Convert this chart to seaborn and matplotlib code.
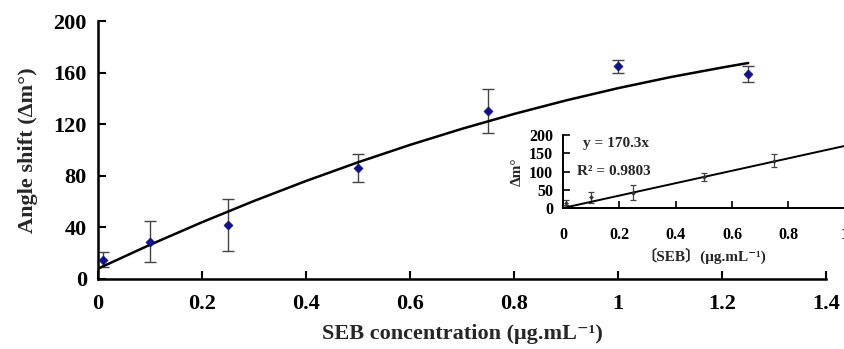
# SEB concentration vs angle shift, with linear-range inset
import numpy as np
import pandas as pd
import matplotlib
matplotlib.use("Agg")
import matplotlib.pyplot as plt
import seaborn as sns

conc = [0.01, 0.1, 0.25, 0.5, 0.75, 1.0, 1.25]
shift = [15, 29, 42, 86, 130, 165, 159]
err = [6, 16, 20, 11, 17, 5, 6]

# Fitted curve
curve_x = [0.0, 0.1, 0.2, 0.3, 0.4, 0.5, 0.6, 0.7, 0.8, 0.9, 1.0, 1.1, 1.2, 1.25]
curve_y = [8, 26.5, 44, 60.5, 76, 90.5, 104, 116.5, 128, 138.5, 148, 156.5, 164, 167.5]

# Inset: linear range
lin_conc = [0.01, 0.1, 0.25, 0.5, 0.75]
lin_shift = [15, 29, 42, 86, 130]
lin_err = [6, 16, 20, 11, 17]
lin_x = [0.0, 1.0]
lin_y = [0.0, 170.3]

main_xticks = [0, 0.2, 0.4, 0.6, 0.8, 1, 1.2, 1.4]
main_xlabels = ["0", "0.2", "0.4", "0.6", "0.8", "1", "1.2", "1.4"]
main_yticks = [0, 40, 80, 120, 160, 200]
ins_xticks = [0, 0.2, 0.4, 0.6, 0.8, 1]
ins_xlabels = ["0", "0.2", "0.4", "0.6", "0.8", "1"]
ins_yticks = [0, 50, 100, 150, 200]

sns.set_style("ticks")
plt.rcParams['font.family'] = ['Liberation Serif', 'DejaVu Serif', 'Noto Sans CJK SC']
plt.rcParams['font.weight'] = 'bold'

pts = pd.DataFrame({"conc": conc, "shift": shift})
fit = pd.DataFrame({"x": curve_x, "y": curve_y})

fig = plt.figure(figsize=(8.44, 3.49), dpi=100)
ax = fig.add_axes([0.116, 0.2006, 0.863, 0.739])

ax.errorbar(conc, shift, yerr=err, fmt='none', ecolor='#444444',
            elinewidth=1, capsize=4, capthick=1)
sns.lineplot(data=fit, x="x", y="y", ax=ax, color='black', linewidth=1.8)
sns.scatterplot(data=pts, x="conc", y="shift", ax=ax, marker='D', s=22,
                color='#10108a', edgecolor='#10108a', zorder=5)

ax.set_xlim(0, 1.4)
ax.set_ylim(0, 200)
ax.set_xticks(main_xticks)
ax.set_xticklabels(main_xlabels)
ax.set_yticks(main_yticks)
ax.tick_params(axis='both', direction='in', length=6, width=1.5,
               labelsize=16, colors='black')
ax.tick_params(axis='x', pad=11)
ax.tick_params(axis='y', pad=8)
for lab in ax.get_xticklabels() + ax.get_yticklabels():
    lab.set_fontweight('bold')
sns.despine(ax=ax)
for s in ['left', 'bottom']:
    ax.spines[s].set_linewidth(1.8)
    ax.spines[s].set_color('black')
ax.set_xlabel("SEB concentration (μg.mL⁻¹)", fontsize=16, fontweight='bold', labelpad=7)
ax.set_ylabel("Angle shift (Δm°)", fontsize=16, fontweight='bold', labelpad=11)

# Inset
ins = fig.add_axes([0.667, 0.404, 0.334, 0.209])
ins.errorbar(lin_conc, lin_shift, yerr=lin_err, fmt='none', ecolor='#444444',
             elinewidth=0.9, capsize=2, capthick=0.9)
sns.scatterplot(x=lin_conc, y=lin_shift, ax=ins, marker='D', s=5,
                color='#333333', edgecolor='#333333', zorder=5)
sns.lineplot(x=lin_x, y=lin_y, ax=ins, color='black', linewidth=1.4)
ins.set_xlim(0, 1)
ins.set_ylim(0, 200)
ins.set_xticks(ins_xticks)
ins.set_xticklabels(ins_xlabels)
ins.set_yticks(ins_yticks)
ins.tick_params(axis='both', direction='in', length=5, width=1.2,
                labelsize=11.5, colors='black')
ins.tick_params(axis='x', pad=14)
ins.tick_params(axis='y', pad=7)
for lab in ins.get_xticklabels() + ins.get_yticklabels():
    lab.set_fontweight('bold')
sns.despine(ax=ins)
for s in ['left', 'bottom']:
    ins.spines[s].set_linewidth(1.4)
    ins.spines[s].set_color('black')
ins.patch.set_alpha(0)
ins.set_xlabel("〔SEB〕(μg.mL⁻¹)", fontsize=11, fontweight='bold', labelpad=3)
ins.set_ylabel("Δm°", fontsize=11, fontweight='bold', labelpad=4)
ins.text(0.07, 168, "y = 170.3x", fontsize=11, fontweight='bold')
ins.text(0.05, 90, "R² = 0.9803", fontsize=11, fontweight='bold')

fig.savefig("out.png", dpi=100)
